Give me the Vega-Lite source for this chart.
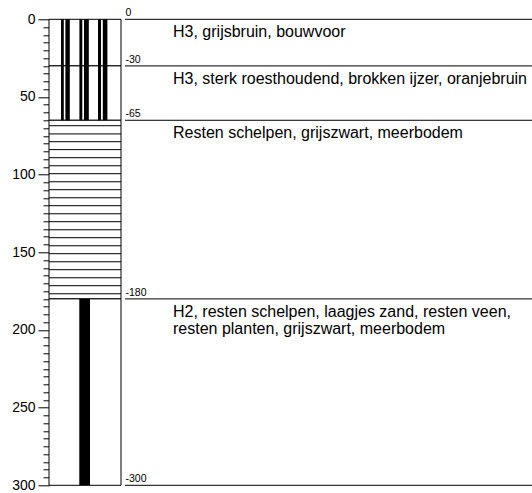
{
  "$schema": "https://vega.github.io/schema/vega-lite/v6.json",
  "width": 483,
  "height": 466,
  "autosize": "none",
  "padding": {"left": 49, "top": 19.3, "right": 0, "bottom": 7.7},
  "background": "white",
  "config": {"view": {"stroke": null}, "font": "Liberation Sans"},
  "resolve": {"axis": {"y": "independent", "x": "independent"}},
  "datasets": {
    "layers": [
      {"top": 0, "bottom": 30, "pattern": "stripes", "description": "H3, grijsbruin, bouwvoor"},
      {"top": 30, "bottom": 65, "pattern": "stripes", "description": "H3, sterk roesthoudend, brokken ijzer, oranjebruin"},
      {"top": 65, "bottom": 180, "pattern": "hatch", "description": "Resten schelpen, grijszwart, meerbodem"},
      {"top": 180, "bottom": 300, "pattern": "bar", "description": ["H2, resten schelpen, laagjes zand, resten veen,", "resten planten, grijszwart, meerbodem"]}
    ],
    "boundaries": [
      {"depth": 0, "label": "0"},
      {"depth": 30, "label": "-30"},
      {"depth": 65, "label": "-65"},
      {"depth": 180, "label": "-180"},
      {"depth": 300, "label": "-300"}
    ],
    "hatch": [
      {"depth": 68.5}, {"depth": 73.8}, {"depth": 78.8}, {"depth": 83.9}, {"depth": 89.1},
      {"depth": 94.3}, {"depth": 99.4}, {"depth": 104.6}, {"depth": 109.7}, {"depth": 114.9},
      {"depth": 120.0}, {"depth": 125.2}, {"depth": 130.3}, {"depth": 135.5}, {"depth": 140.6},
      {"depth": 145.8}, {"depth": 150.9}, {"depth": 156.1}, {"depth": 161.2}, {"depth": 166.4},
      {"depth": 171.5}, {"depth": 176.7}
    ]
  },
  "layer": [
    {
      "data": {"name": "layers"},
      "mark": {"type": "rect", "fill": "white", "stroke": "black", "strokeWidth": 1},
      "encoding": {
        "x": {"datum": 0, "type": "quantitative", "scale": {"domain": [0, 483], "nice": false, "zero": false}, "axis": null},
        "x2": {"datum": 72},
        "y": {
          "field": "top", "type": "quantitative",
          "scale": {"domain": [0, 300], "reverse": true, "nice": false, "zero": false},
          "axis": {
            "title": null,
            "orient": "left",
            "values": [0,5,10,15,20,25,30,35,40,45,50,55,60,65,70,75,80,85,90,95,100,105,110,115,120,125,130,135,140,145,150,155,160,165,170,175,180,185,190,195,200,205,210,215,220,225,230,235,240,245,250,255,260,265,270,275,280,285,290,295,300],
            "labelExpr": "datum.value % 50 === 0 ? datum.label : ''",
            "tickSize": {"condition": {"test": "datum.value % 50 === 0", "value": 11}, "value": 6},
            "labelFontSize": 14,
            "labelFont": "Liberation Sans",
            "labelColor": "black",
            "tickColor": "black",
            "domainColor": "black",
            "grid": false,
            "labelPadding": 3,
            "labelOverlap": false,
            "labelBound": false,
            "labelFlush": false
          }
        },
        "y2": {"field": "bottom"}
      }
    },
    {
      "data": {"name": "layers"},
      "transform": [{"filter": "datum.pattern === 'stripes'"}],
      "mark": {"type": "rect", "fill": "black"},
      "encoding": {"x": {"datum": 12, "type": "quantitative", "axis": null}, "x2": {"datum": 14.8}, "y": {"field": "top", "type": "quantitative", "axis": null}, "y2": {"field": "bottom"}}
    },
    {
      "data": {"name": "layers"},
      "transform": [{"filter": "datum.pattern === 'stripes'"}],
      "mark": {"type": "rect", "fill": "black"},
      "encoding": {"x": {"datum": 16.4, "type": "quantitative", "axis": null}, "x2": {"datum": 20.8}, "y": {"field": "top", "type": "quantitative", "axis": null}, "y2": {"field": "bottom"}}
    },
    {
      "data": {"name": "layers"},
      "transform": [{"filter": "datum.pattern === 'stripes'"}],
      "mark": {"type": "rect", "fill": "black"},
      "encoding": {"x": {"datum": 30.4, "type": "quantitative", "axis": null}, "x2": {"datum": 33.3}, "y": {"field": "top", "type": "quantitative", "axis": null}, "y2": {"field": "bottom"}}
    },
    {
      "data": {"name": "layers"},
      "transform": [{"filter": "datum.pattern === 'stripes'"}],
      "mark": {"type": "rect", "fill": "black"},
      "encoding": {"x": {"datum": 35, "type": "quantitative", "axis": null}, "x2": {"datum": 39.8}, "y": {"field": "top", "type": "quantitative", "axis": null}, "y2": {"field": "bottom"}}
    },
    {
      "data": {"name": "layers"},
      "transform": [{"filter": "datum.pattern === 'stripes'"}],
      "mark": {"type": "rect", "fill": "black"},
      "encoding": {"x": {"datum": 49, "type": "quantitative", "axis": null}, "x2": {"datum": 52}, "y": {"field": "top", "type": "quantitative", "axis": null}, "y2": {"field": "bottom"}}
    },
    {
      "data": {"name": "layers"},
      "transform": [{"filter": "datum.pattern === 'stripes'"}],
      "mark": {"type": "rect", "fill": "black"},
      "encoding": {"x": {"datum": 53.8, "type": "quantitative", "axis": null}, "x2": {"datum": 58.4}, "y": {"field": "top", "type": "quantitative", "axis": null}, "y2": {"field": "bottom"}}
    },
    {
      "data": {"name": "layers"},
      "transform": [{"filter": "datum.pattern === 'bar'"}],
      "mark": {"type": "rect", "fill": "black"},
      "encoding": {"x": {"datum": 30.3, "type": "quantitative", "axis": null}, "x2": {"datum": 41}, "y": {"field": "top", "type": "quantitative", "axis": null}, "y2": {"field": "bottom"}}
    },
    {
      "data": {"name": "hatch"},
      "mark": {"type": "rule", "stroke": "black", "strokeWidth": 1},
      "encoding": {"x": {"datum": 0, "type": "quantitative", "axis": null}, "x2": {"datum": 72}, "y": {"field": "depth", "type": "quantitative", "axis": null}}
    },
    {
      "data": {"name": "boundaries"},
      "mark": {"type": "rule", "stroke": "black", "strokeWidth": 1},
      "encoding": {"x": {"datum": 76, "type": "quantitative", "axis": null}, "x2": {"datum": 483}, "y": {"field": "depth", "type": "quantitative", "axis": null}}
    },
    {
      "data": {"name": "boundaries"},
      "mark": {"type": "text", "align": "left", "baseline": "alphabetic", "dy": -3, "fontSize": 10.5, "font": "Liberation Sans", "color": "black"},
      "encoding": {"x": {"datum": 76.5, "type": "quantitative", "axis": null}, "y": {"field": "depth", "type": "quantitative", "axis": null}, "text": {"field": "label", "type": "nominal"}}
    },
    {
      "data": {"name": "layers"},
      "mark": {"type": "text", "align": "left", "baseline": "alphabetic", "dy": 18, "fontSize": 16, "lineHeight": 17, "font": "Liberation Sans", "color": "black"},
      "encoding": {"x": {"datum": 124, "type": "quantitative", "axis": null}, "y": {"field": "top", "type": "quantitative", "axis": null}, "text": {"field": "description", "type": "nominal"}}
    }
  ]
}
